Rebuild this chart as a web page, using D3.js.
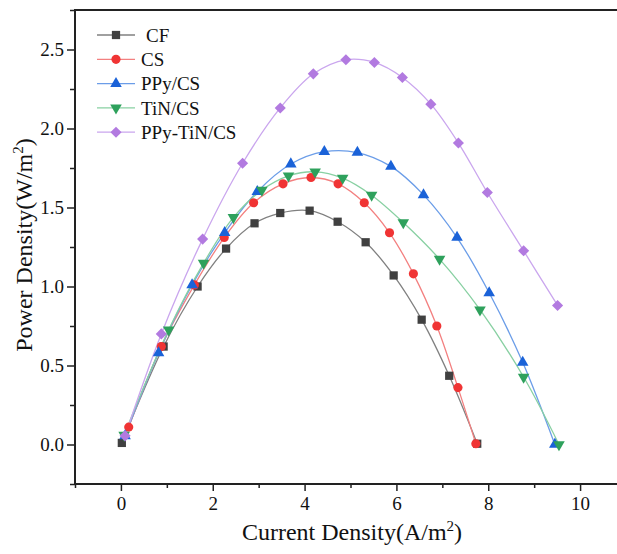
<!DOCTYPE html>
<html>
<head>
<meta charset="utf-8">
<script src="https://cdn.jsdelivr.net/npm/d3@7"></script>
<style>
  body { margin: 0; background: #fff; }
  svg { display: block; }
</style>
</head>
<body>
<div id="vis"></div>
<script>
// data
let names = ['CF', 'CS', 'PPy/CS', 'TiN/CS', 'PPy-TiN/CS']

let cfX = [0.02, 0.93, 1.67, 2.29, 2.91, 3.47, 4.11, 4.72, 5.33, 5.94, 6.55, 7.15, 7.76]
let cfY = [0.01, 0.62, 1.00, 1.24, 1.40, 1.465, 1.48, 1.41, 1.28, 1.07, 0.79, 0.435, 0.005]

let csX = [0.17, 0.88, 1.60, 2.25, 2.89, 3.53, 4.14, 4.73, 5.30, 5.85, 6.37, 6.88, 7.34, 7.73]
let csY = [0.11, 0.62, 1.01, 1.31, 1.53, 1.65, 1.69, 1.65, 1.53, 1.34, 1.08, 0.75, 0.36, 0.005]

let ppyX = [0.09, 0.82, 1.55, 2.26, 2.97, 3.70, 4.43, 5.15, 5.88, 6.59, 7.32, 8.02, 8.75, 9.45]
let ppyY = [0.055, 0.58, 1.01, 1.34, 1.60, 1.775, 1.853, 1.848, 1.76, 1.58, 1.31, 0.96, 0.52, 0.0]

let tinX = [0.07, 1.04, 1.80, 2.45, 3.07, 3.65, 4.23, 4.83, 5.46, 6.15, 6.94, 7.82, 8.77, 9.54]
let tinY = [0.06, 0.726, 1.148, 1.437, 1.61, 1.70, 1.726, 1.686, 1.578, 1.405, 1.173, 0.853, 0.427, 0.0]

let ptX = [0.09, 0.88, 1.78, 2.65, 3.47, 4.19, 4.90, 5.52, 6.13, 6.75, 7.35, 7.98, 8.77, 9.51]
let ptY = [0.055, 0.70, 1.30, 1.78, 2.13, 2.346, 2.435, 2.418, 2.323, 2.154, 1.908, 1.595, 1.226, 0.88]

let xTicks = [0, 2, 4, 6, 8, 10]
let yTicks = [0.0, 0.5, 1.0, 1.5, 2.0, 2.5]

let series = [
  {name: names[0], xs: cfX, ys: cfY, shape: d3.symbolSquare, size: 68, mark: '#404040', line: '#808080', rot: 0},
  {name: names[1], xs: csX, ys: csY, shape: d3.symbolCircle, size: 66, mark: '#f03434', line: '#f38080', rot: 0},
  {name: names[2], xs: ppyX, ys: ppyY, shape: d3.symbolTriangle, size: 58, mark: '#1a62d8', line: '#6b9de8', rot: 0},
  {name: names[3], xs: tinX, ys: tinY, shape: d3.symbolTriangle, size: 58, mark: '#2ea15c', line: '#88d0a2', rot: 180},
  {name: names[4], xs: ptX, ys: ptY, shape: d3.symbolSquare, size: 62, mark: '#b27ae0', line: '#caa6ee', rot: 45}
]

let width = 617, height = 554
let margin = {top: 10, left: 75, bottom: 70}

let svg = d3.select('#vis')
  .append('svg')
  .attr('width', width)
  .attr('height', height)
  .style('background-color', '#fff')

let x = d3.scaleLinear().domain([-1, 11]).range([margin.left, 626])
let y = d3.scaleLinear().domain([-0.25, 2.75]).range([height - margin.bottom, margin.top])

let font = "'Liberation Serif', 'Times New Roman', serif"

// x axis, major + minor ticks
let xMinor = d3.range(-1, 12, 1).filter(d => d % 2 !== 0)
svg.append('g')
  .attr('transform', `translate(0,${y(-0.25)})`)
  .call(d3.axisBottom(x).tickValues(xMinor).tickSize(4).tickFormat(''))
  .call(g => g.select('.domain').remove())
svg.append('g')
  .attr('transform', `translate(0,${y(-0.25)})`)
  .call(d3.axisBottom(x).tickValues(xTicks).tickSize(7).tickPadding(6).tickFormat(d3.format('d')))
  .call(g => g.select('.domain').remove())
  .call(g => g.selectAll('text').style('font-family', font).style('font-size', '19px').attr('fill', '#111'))

// y axis
let yMinor = [-0.25, 0.25, 0.75, 1.25, 1.75, 2.25, 2.75]
svg.append('g')
  .attr('transform', `translate(${margin.left},0)`)
  .call(d3.axisLeft(y).tickValues(yMinor).tickSize(5).tickFormat(''))
  .call(g => g.select('.domain').remove())
svg.append('g')
  .attr('transform', `translate(${margin.left},0)`)
  .call(d3.axisLeft(y).tickValues(yTicks).tickSize(8).tickPadding(3).tickFormat(d3.format('.1f')))
  .call(g => g.select('.domain').remove())
  .call(g => g.selectAll('text').style('font-family', font).style('font-size', '19px').attr('fill', '#111'))

svg.selectAll('.tick line').attr('stroke', '#222').attr('stroke-width', 1.5)

// frame (right side falls outside the picture)
svg.append('path')
  .attr('d', `M${x(11)},${y(2.75)}H${x(-1)}V${y(-0.25)}H${x(11)}`)
  .attr('fill', 'none')
  .attr('stroke', '#222')
  .attr('stroke-width', 2)

// curves
let line = d3.line()
  .x(d => x(d[0]))
  .y(d => y(d[1]))
  .curve(d3.curveCatmullRom.alpha(0.5))

series.forEach(s => {
  let pts = s.xs.map((v, i) => [v, s.ys[i]])
  svg.append('path')
    .datum(pts)
    .attr('d', line)
    .attr('fill', 'none')
    .attr('stroke', s.line)
    .attr('stroke-width', 1.3)
})

series.forEach(s => {
  let pts = s.xs.map((v, i) => [v, s.ys[i]])
  svg.append('g').selectAll('path')
    .data(pts)
    .join('path')
    .attr('d', d3.symbol().type(s.shape).size(s.size))
    .attr('transform', d => `translate(${x(d[0])},${y(d[1])}) rotate(${s.rot})`)
    .attr('fill', s.mark)
})

// legend
let legend = svg.append('g')
series.forEach((s, i) => {
  let ly = 35 + i * 24.3
  legend.append('line')
    .attr('x1', 97).attr('x2', 135)
    .attr('y1', ly).attr('y2', ly)
    .attr('stroke', s.line)
    .attr('stroke-width', 1.3)
  legend.append('path')
    .attr('d', d3.symbol().type(s.shape).size(s.size))
    .attr('transform', `translate(116,${ly}) rotate(${s.rot})`)
    .attr('fill', s.mark)
  legend.append('text')
    .attr('x', i === 0 ? 146 : 141)
    .attr('y', ly)
    .attr('dy', '0.35em')
    .style('font-family', font)
    .style('font-size', '19px')
    .attr('fill', '#111')
    .text(s.name)
})

// axis titles
let xt = svg.append('text')
  .attr('x', 352)
  .attr('y', 540)
  .attr('text-anchor', 'middle')
  .style('font-family', font)
  .style('font-size', '24px')
  .attr('fill', '#111')
xt.append('tspan').text('Current Density(A/m')
xt.append('tspan').attr('dy', -9).style('font-size', '15px').text('2')
xt.append('tspan').attr('dy', 9).text(')')

let yt = svg.append('text')
  .attr('transform', 'translate(32,245) rotate(-90)')
  .attr('text-anchor', 'middle')
  .style('font-family', font)
  .style('font-size', '24px')
  .attr('fill', '#111')
yt.append('tspan').text('Power Density(W/m')
yt.append('tspan').attr('dy', -9).style('font-size', '15px').text('2')
yt.append('tspan').attr('dy', 9).text(')')
</script>
</body>
</html>
